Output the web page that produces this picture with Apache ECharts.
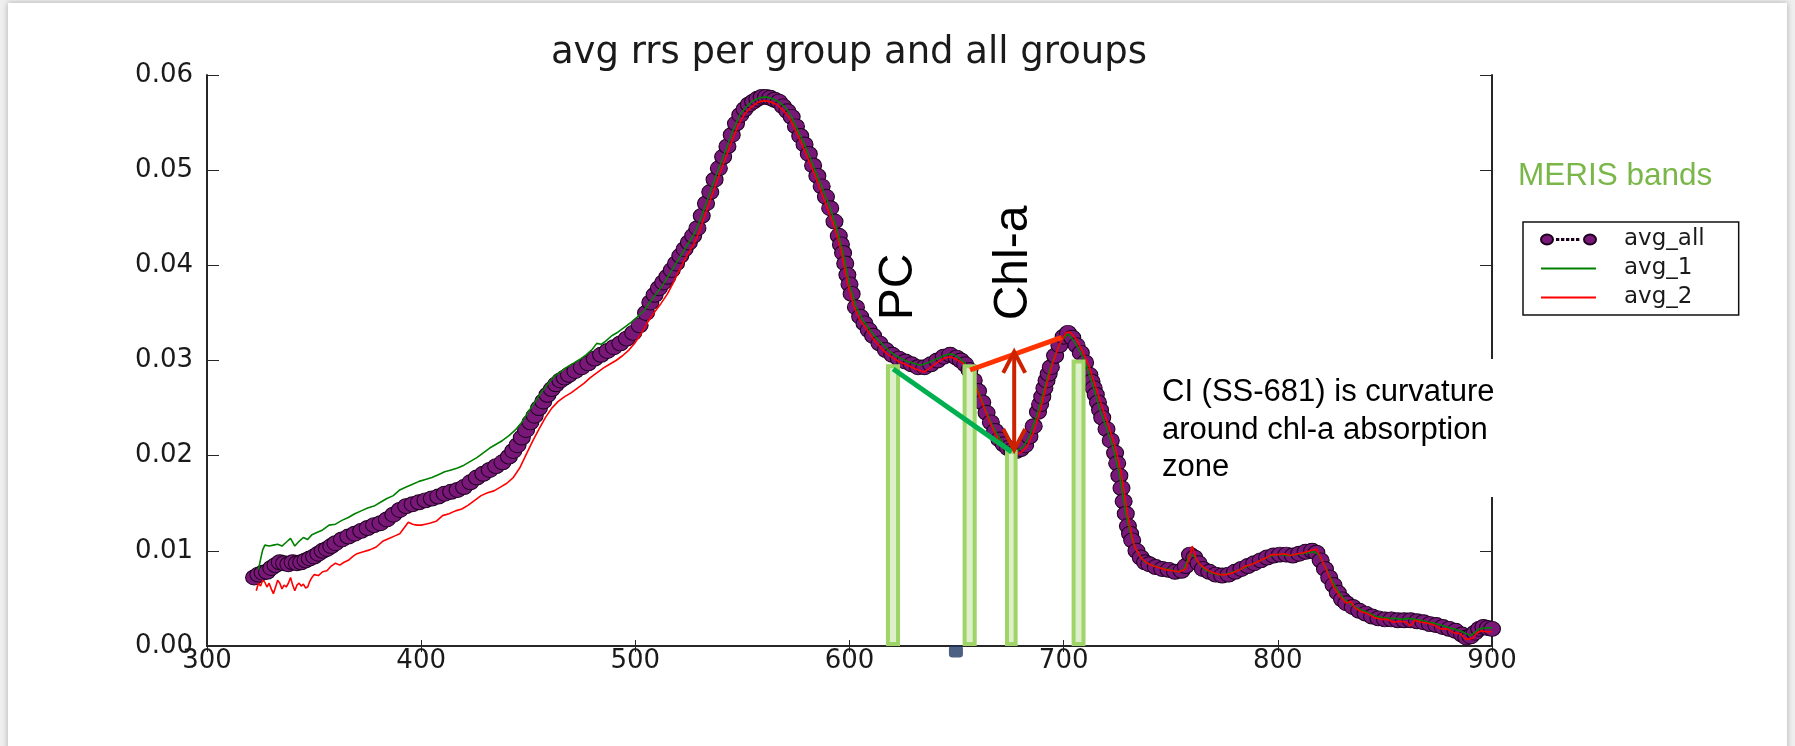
<!DOCTYPE html>
<html>
<head>
<meta charset="utf-8">
<script src="https://cdn.jsdelivr.net/npm/echarts/dist/echarts.min.js"></script>
<style>
  html, body { margin: 0; padding: 0; background: #efefef; overflow: hidden; }
  #slide { position: absolute; left: 8px; top: 3px; width: 1779px; height: 780px; background: #fff; box-shadow: 0 0 6px rgba(0,0,0,0.28); }
  #chart { position: absolute; left: 0; top: 0; width: 1795px; height: 746px; }
</style>
</head>
<body>
<div id="slide"></div>
<div id="chart"></div>
<script>
// Average remote-sensing reflectance spectra [wavelength nm, Rrs]
const avgAllData = [[322,.0072],[324,.0075],[326,.0077],[328,.0078],[330,.0082],[332,.0085],[334,.0088],[336,.0087],[338,.0086],[340,.0088],[342,.0087],[344,.0088],[346,.0090],[348,.0092],[350,.0094],[352,.0097],[354,.0100],[356,.0102],[358,.0105],[360,.0108],[363,.0112],[366,.0115],[369,.0118],[372,.0121],[375,.0124],[378,.0127],[381,.0129],[384,.0133],[387,.0138],[390,.0143],[393,.0147],[396,.0149],[399,.0151],[402,.0153],[405,.0155],[408,.0157],[411,.0160],[414,.0162],[417,.0164],[420,.0167],[423,.0172],[426,.0177],[429,.0181],[432,.0185],[435,.0189],[438,.0193],[441,.0199],[443,.0205],[445,.0211],[447,.0219],[449,.0227],[451,.0235],[453,.0242],[455,.0250],[457,.0257],[459,.0264],[461,.0270],[463,.0275],[465,.0279],[467,.0282],[469,.0285],[472,.0289],[475,.0293],[478,.0297],[481,.0302],[484,.0306],[487,.0310],[490,.0314],[493,.0318],[496,.0323],[499,.0329],[502,.0337],[505,.0350],[507,.0361],[509,.0369],[511,.0376],[513,.0382],[515,.0388],[517,.0395],[519,.0402],[521,.0410],[523,.0417],[525,.0424],[527,.0431],[529,.0439],[531,.0452],[533,.0465],[535,.0477],[537,.0490],[539,.0502],[541,.0514],[543,.0525],[545,.0537],[547,.0549],[549,.0558],[551,.0564],[553,.0569],[555,.0572],[557,.0575],[559,.0577],[561,.0577],[563,.0576],[565,.0574],[567,.0572],[569,.0567],[571,.0562],[573,.0556],[575,.0546],[577,.0536],[579,.0527],[581,.0517],[583,.0505],[585,.0494],[587,.0483],[589,.0472],[591,.0460],[593,.0446],[595,.0431],[596,.0422],[597,.0413],[598,.0402],[599,.0390],[600,.0380],[601,.0370],[603,.0356],[605,.0346],[607,.0339],[609,.0332],[611,.0326],[614,.0318],[617,.0311],[620,.0306],[623,.0302],[626,.0299],[629,.0296],[632,.0293],[635,.0293],[638,.0296],[641,.0300],[644,.0304],[647,.0306],[650,.0303],[652,.0300],[654,.0296],[656,.0290],[658,.0279],[660,.0268],[662,.0256],[664,.0245],[666,.0235],[668,.0226],[670,.0217],[672,.0212],[674,.0208],[676,.0206],[678,.0205],[680,.0207],[682,.0211],[684,.0220],[686,.0231],[688,.0246],[689,.0254],[690,.0262],[691,.0271],[692,.0279],[693,.0286],[694,.0293],[696,.0305],[698,.0316],[700,.0325],[702,.0329],[704,.0324],[706,.0316],[708,.0308],[710,.0298],[712,.0285],[713,.0278],[714,.0271],[715,.0264],[716,.0256],[717,.0248],[718,.0240],[720,.0228],[722,.0216],[724,.0203],[725,.0192],[726,.0179],[727,.0166],[728,.0152],[729,.0139],[730,.0126],[731,.0118],[732,.0111],[734,.0100],[736,.0093],[738,.0088],[740,.0086],[743,.0083],[746,.0081],[749,.0080],[752,.0078],[755,.0079],[757,.0084],[759,.0096],[761,.0093],[763,.0087],[765,.0081],[768,.0078],[771,.0075],[774,.0074],[777,.0075],[780,.0078],[783,.0081],[786,.0084],[789,.0087],[792,.0090],[795,.0093],[798,.0095],[801,.0096],[804,.0096],[807,.0095],[810,.0097],[813,.0099],[816,.0100],[818,.0098],[820,.0090],[822,.0081],[824,.0072],[826,.0064],[828,.0056],[830,.0049],[832,.0045],[835,.0041],[838,.0037],[841,.0034],[844,.0031],[847,.0029],[850,.0028],[853,.0028],[856,.0027],[859,.0027],[862,.0027],[865,.0026],[868,.0025],[871,.0023],[874,.0022],[877,.0020],[880,.0018],[883,.0016],[886,.0012],[888,.0009],[890,.0010],[892,.0014],[894,.0018],[896,.0020],[898,.0019],[900,.0018]];

const avg1Data = [[324,.0080],[325,.0091],[326,.0101],[327,.0106],[329,.0105],[331,.0106],[333,.0107],[335,.0105],[337,.0109],[339,.0113],[341,.0105],[343,.0110],[345,.0114],[347,.0112],[349,.0117],[351,.0119],[354,.0122],[357,.0127],[360,.0128],[363,.0132],[366,.0135],[369,.0139],[372,.0142],[375,.0145],[378,.0147],[381,.0151],[384,.0155],[387,.0158],[390,.0164],[393,.0167],[396,.0170],[399,.0173],[402,.0175],[405,.0177],[408,.0180],[411,.0183],[414,.0185],[417,.0187],[420,.0190],[423,.0194],[426,.0198],[429,.0203],[432,.0208],[435,.0212],[438,.0216],[441,.0221],[444,.0227],[447,.0235],[450,.0246],[453,.0256],[456,.0266],[459,.0275],[462,.0283],[465,.0288],[468,.0293],[471,.0297],[474,.0301],[477,.0306],[480,.0312],[482,.0318],[484,.0317],[486,.0320],[489,.0326],[492,.0330],[495,.0335],[498,.0340],[501,.0346],[504,.0352],[507,.0362],[510,.0371],[513,.0380],[516,.0391],[519,.0402],[522,.0413],[525,.0424],[528,.0435],[531,.0452],[534,.0471],[537,.0490],[540,.0508],[543,.0526],[546,.0544],[549,.0559],[552,.0567],[555,.0573],[558,.0576],[561,.0577],[564,.0575],[567,.0572],[570,.0566],[573,.0556],[576,.0541],[579,.0527],[582,.0511],[585,.0494],[588,.0477],[591,.0460],[594,.0439],[597,.0413],[600,.0380],[603,.0357],[606,.0343],[609,.0334],[612,.0325],[615,.0318],[618,.0311],[621,.0306],[624,.0302],[627,.0299],[630,.0297],[633,.0295],[636,.0297],[639,.0300],[642,.0303],[645,.0306],[648,.0307],[651,.0303],[654,.0297],[657,.0285],[660,.0269],[663,.0251],[666,.0235],[669,.0222],[672,.0212],[675,.0207],[678,.0205],[681,.0209],[684,.0220],[687,.0239],[690,.0262],[693,.0287],[696,.0306],[699,.0321],[702,.0328],[705,.0320],[708,.0308],[711,.0292],[714,.0271],[717,.0248],[720,.0229],[723,.0209],[726,.0181],[729,.0139],[732,.0111],[735,.0096],[738,.0088],[741,.0085],[744,.0083],[747,.0081],[750,.0080],[753,.0078],[756,.0080],[759,.0097],[761,.0094],[763,.0087],[766,.0080],[769,.0077],[772,.0075],[775,.0075],[778,.0077],[781,.0079],[784,.0082],[787,.0085],[790,.0088],[793,.0091],[796,.0094],[799,.0096],[802,.0096],[805,.0095],[808,.0096],[811,.0097],[814,.0098],[817,.0099],[819,.0096],[822,.0084],[825,.0070],[828,.0058],[831,.0049],[834,.0044],[837,.0040],[840,.0037],[843,.0034],[846,.0031],[849,.0030],[852,.0029],[855,.0029],[858,.0028],[861,.0029],[864,.0028],[867,.0027],[870,.0025],[873,.0024],[876,.0022],[879,.0020],[882,.0018],[885,.0016],[888,.0013],[890,.0011],[892,.0014],[894,.0018],[897,.0019],[900,.0019]];

const avg2Data = [[323,.0058],[324,.0066],[325,.0063],[326,.0069],[327,.0067],[328,.0062],[329,.0066],[330,.0060],[331,.0055],[332,.0062],[333,.0069],[334,.0066],[335,.0060],[336,.0064],[337,.0062],[338,.0066],[339,.0072],[340,.0064],[341,.0058],[342,.0064],[343,.0066],[344,.0063],[345,.0065],[346,.0061],[347,.0062],[348,.0068],[349,.0072],[350,.0075],[352,.0074],[354,.0078],[356,.0079],[358,.0084],[360,.0087],[362,.0085],[364,.0088],[366,.0090],[368,.0094],[370,.0097],[373,.0099],[376,.0101],[379,.0104],[382,.0110],[385,.0113],[388,.0116],[390,.0118],[392,.0124],[394,.0130],[396,.0128],[398,.0127],[400,.0127],[402,.0128],[404,.0129],[407,.0131],[410,.0137],[413,.0139],[416,.0142],[419,.0144],[422,.0148],[425,.0153],[428,.0158],[431,.0161],[434,.0163],[437,.0167],[440,.0171],[443,.0177],[446,.0187],[449,.0201],[452,.0215],[455,.0228],[458,.0240],[461,.0250],[464,.0257],[467,.0262],[470,.0266],[473,.0271],[476,.0276],[479,.0282],[482,.0287],[485,.0292],[488,.0296],[491,.0300],[494,.0305],[497,.0311],[500,.0319],[503,.0329],[506,.0341],[509,.0351],[512,.0360],[515,.0370],[518,.0383],[521,.0397],[524,.0410],[527,.0421],[530,.0436],[533,.0456],[536,.0475],[539,.0494],[542,.0512],[545,.0530],[548,.0547],[551,.0559],[554,.0566],[557,.0571],[560,.0573],[563,.0572],[566,.0569],[569,.0563],[572,.0555],[575,.0541],[578,.0526],[581,.0510],[584,.0494],[587,.0476],[590,.0458],[593,.0440],[596,.0416],[599,.0382],[602,.0357],[605,.0342],[608,.0333],[611,.0323],[614,.0315],[617,.0308],[620,.0303],[623,.0299],[626,.0296],[629,.0293],[632,.0290],[635,.0288],[638,.0293],[641,.0298],[644,.0302],[647,.0304],[650,.0301],[653,.0297],[656,.0289],[659,.0272],[662,.0255],[665,.0238],[668,.0223],[671,.0211],[674,.0204],[677,.0201],[680,.0203],[683,.0210],[686,.0225],[689,.0247],[692,.0274],[695,.0298],[698,.0317],[701,.0329],[703,.0330],[706,.0322],[709,.0309],[712,.0293],[715,.0272],[718,.0251],[721,.0231],[724,.0210],[727,.0180],[730,.0136],[733,.0105],[736,.0093],[739,.0087],[742,.0084],[745,.0082],[748,.0080],[751,.0079],[754,.0078],[757,.0081],[759,.0095],[760,.0105],[762,.0091],[764,.0085],[767,.0080],[770,.0077],[773,.0075],[776,.0075],[779,.0077],[782,.0080],[785,.0084],[788,.0086],[791,.0089],[794,.0092],[797,.0096],[800,.0096],[803,.0097],[806,.0095],[809,.0097],[812,.0098],[815,.0100],[818,.0102],[820,.0093],[823,.0078],[826,.0062],[829,.0052],[832,.0045],[834,.0047],[836,.0040],[839,.0036],[842,.0034],[845,.0030],[848,.0028],[851,.0028],[854,.0025],[857,.0026],[860,.0025],[862,.0021],[864,.0027],[867,.0025],[870,.0024],[873,.0022],[876,.0018],[879,.0018],[882,.0014],[885,.0013],[888,.0007],[891,.0008],[893,.0014],[895,.0016],[897,.0015],[900,.0015]];

// MERIS band positions: [lower nm, upper nm, top Rrs]
const merisBands = [[617.0, 623.6, 0.0294], [652.8, 659.4, 0.0294], [672.6, 678.5, 0.0204], [703.7, 710.2, 0.0299]];
// Baselines used for the PC and Chl-a line-height indices
const pcBaseline = [[620.4, 0.0291], [675.7, 0.0204]];
const chlBaseline = [[656.3, 0.0290], [699.1, 0.03244]];
// Curvature arrow at the chl-a trough: [nm, top Rrs, bottom Rrs]
const chlArrow = [[676.9, 0.0309, 0.0206]];
const slideMarker = [[649.7, -0.00058]];

const xTicks = { min: 300, max: 900, interval: 100 };
const yTicks = { min: 0, max: 0.06, interval: 0.01 };

const chart = echarts.init(document.getElementById('chart'), null, { renderer: 'canvas' });

const tickFont = { fontFamily: 'DejaVu Sans', fontSize: 26, color: '#1a1a1a' };
const frameLine = { show: true, lineStyle: { color: '#262626', width: 2 } };
const tickLine = { lineStyle: { color: '#262626', width: 1 } };

// two markers joined by a dotted segment
const legendMarkerIcon = 'path://M0,5A6,5 0 1,0 12,5A6,5 0 1,0 0,5Z' +
  'M43,5A6,5 0 1,0 55,5A6,5 0 1,0 43,5Z' +
  'M16,4.5h1.3v1h-1.3Z M21,4.5h1.3v1h-1.3Z M26,4.5h1.3v1h-1.3Z M31,4.5h1.3v1h-1.3Z M36,4.5h1.3v1h-1.3Z';
const plainLegendItem = { itemStyle: { color: 'transparent', borderColor: 'transparent', borderWidth: 0 } };

const option = {
  animation: false,
  backgroundColor: 'transparent',
  title: {
    text: 'avg rrs per group and all groups',
    left: 849, top: 35, textAlign: 'center', padding: 0,
    textStyle: { fontFamily: 'DejaVu Sans', fontSize: 37, fontWeight: 'normal', color: '#1a1a1a' }
  },
  legend: {
    orient: 'vertical', left: 1523, top: 222, align: 'left',
    itemWidth: 55, itemHeight: 10, itemGap: 6,
    padding: [6, 34, 6, 17],
    borderColor: '#111', borderWidth: 1.5, backgroundColor: '#fff',
    selectedMode: false,
    textStyle: { fontFamily: 'DejaVu Sans', fontSize: 23, color: '#1a1a1a', lineHeight: 22, padding: [0, 0, 0, 23] },
    data: [
      { name: 'avg_all', icon: legendMarkerIcon },
      { name: 'avg_1', ...plainLegendItem },
      { name: 'avg_2', ...plainLegendItem }
    ]
  },
  grid: { left: 207, right: 303, top: 75, bottom: 100, containLabel: false },
  xAxis: [
    { type: 'value', position: 'bottom', ...xTicks,
      axisLine: frameLine, splitLine: { show: false },
      axisTick: { show: true, inside: true, length: 6, ...tickLine },
      axisLabel: { ...tickFont, margin: 2 } },
    { type: 'value', position: 'top', ...xTicks,
      axisLine: frameLine, splitLine: { show: false },
      axisTick: { show: true, inside: true, length: 6, ...tickLine },
      axisLabel: { show: false } }
  ],
  yAxis: [
    { type: 'value', position: 'left', ...yTicks,
      axisLine: frameLine, splitLine: { show: false },
      axisTick: { show: true, inside: true, length: 12, ...tickLine },
      axisLabel: { ...tickFont, margin: 14, formatter: v => v.toFixed(2) } },
    { type: 'value', position: 'right', ...yTicks,
      axisLine: frameLine, splitLine: { show: false },
      axisTick: { show: true, inside: true, length: 12, ...tickLine },
      axisLabel: { show: false } }
  ],
  series: [
    {
      name: 'avg_all', type: 'line', data: avgAllData, z: 2,
      symbol: 'circle', symbolSize: [17, 15], showAllSymbol: true,
      itemStyle: { color: '#7a187a', borderColor: '#1c001e', borderWidth: 1 },
      lineStyle: { color: '#a040a0', width: 1, type: 'dotted' }
    },
    {
      name: 'avg_1', type: 'line', data: avg1Data, z: 3, symbol: 'none',
      itemStyle: { color: '#008000' }, lineStyle: { color: '#008000', width: 1.6 }
    },
    {
      name: 'avg_2', type: 'line', data: avg2Data, z: 4, symbol: 'none',
      itemStyle: { color: '#ff0000' }, lineStyle: { color: '#ff0000', width: 1.6 }
    },
    {
      name: 'MERIS bands', type: 'custom', data: merisBands, z: 5, silent: true,
      encode: { x: [0, 1], y: 2 },
      renderItem: (params, api) => {
        const lw = 4;
        const p0 = api.coord([api.value(0), api.value(2)]);
        const p1 = api.coord([api.value(1), 0]);
        return {
          type: 'rect',
          shape: { x: p0[0] + lw / 2, y: p0[1], width: p1[0] - p0[0] - lw, height: p1[1] - p0[1] - lw / 2 },
          style: { fill: '#ddf0c9', stroke: '#9fd468', lineWidth: lw }
        };
      }
    },
    {
      name: 'PC baseline', type: 'line', data: pcBaseline, z: 6, symbol: 'none', silent: true,
      lineStyle: { color: '#00b050', width: 5 }
    },
    {
      name: 'Chl-a baseline', type: 'line', data: chlBaseline, z: 6, symbol: 'none', silent: true,
      lineStyle: { color: '#ff3300', width: 5 }
    },
    {
      name: 'curvature', type: 'custom', data: chlArrow, z: 7, silent: true,
      encode: { x: 0, y: [1, 2] },
      renderItem: (params, api) => {
        const top = api.coord([api.value(0), api.value(1)]);
        const bot = api.coord([api.value(0), api.value(2)]);
        const hw = 11, hl = 21;
        const style = { stroke: '#cc2200', lineWidth: 4, fill: null, lineJoin: 'miter' };
        return {
          type: 'group',
          children: [
            { type: 'line', shape: { x1: top[0], y1: top[1] + 2, x2: bot[0], y2: bot[1] - 2 }, style },
            { type: 'polyline', shape: { points: [[top[0] - hw, top[1] + hl], [top[0], top[1]], [top[0] + hw, top[1] + hl]] }, style },
            { type: 'polyline', shape: { points: [[bot[0] - hw, bot[1] - hl], [bot[0], bot[1]], [bot[0] + hw, bot[1] - hl]] }, style }
          ]
        };
      }
    },
    {
      name: 'marker', type: 'scatter', data: slideMarker, z: 8, silent: true, clip: false,
      symbol: 'roundRect', symbolSize: [14, 12],
      itemStyle: { color: '#1f3864' }
    }
  ],
  graphic: [
    { type: 'rect', z: 100, shape: { x: 1155, y: 359, width: 360, height: 138 }, style: { fill: '#ffffff' } },
    { type: 'text', z: 101, x: 1162, y: 374,
      style: { text: 'CI (SS-681) is curvature\naround chl-a absorption\nzone',
        fontFamily: 'Liberation Sans', fontSize: 31, lineHeight: 37.5, fill: '#000', verticalAlign: 'top', align: 'left' } },
    { type: 'text', z: 101, x: 1518, y: 176,
      style: { text: 'MERIS bands', fontFamily: 'Liberation Sans', fontSize: 31.5, fill: '#7ab648', verticalAlign: 'middle', align: 'left' } },
    { type: 'text', z: 101, x: 899, y: 287, rotation: Math.PI / 2,
      style: { text: 'PC', fontFamily: 'Liberation Sans', fontSize: 48, fill: '#000', verticalAlign: 'middle', align: 'center' } },
    { type: 'text', z: 101, x: 1014, y: 263, rotation: Math.PI / 2,
      style: { text: 'Chl-a', fontFamily: 'Liberation Sans', fontSize: 48, fill: '#000', verticalAlign: 'middle', align: 'center' } }
  ]
};

chart.setOption(option);
</script>
</body>
</html>
